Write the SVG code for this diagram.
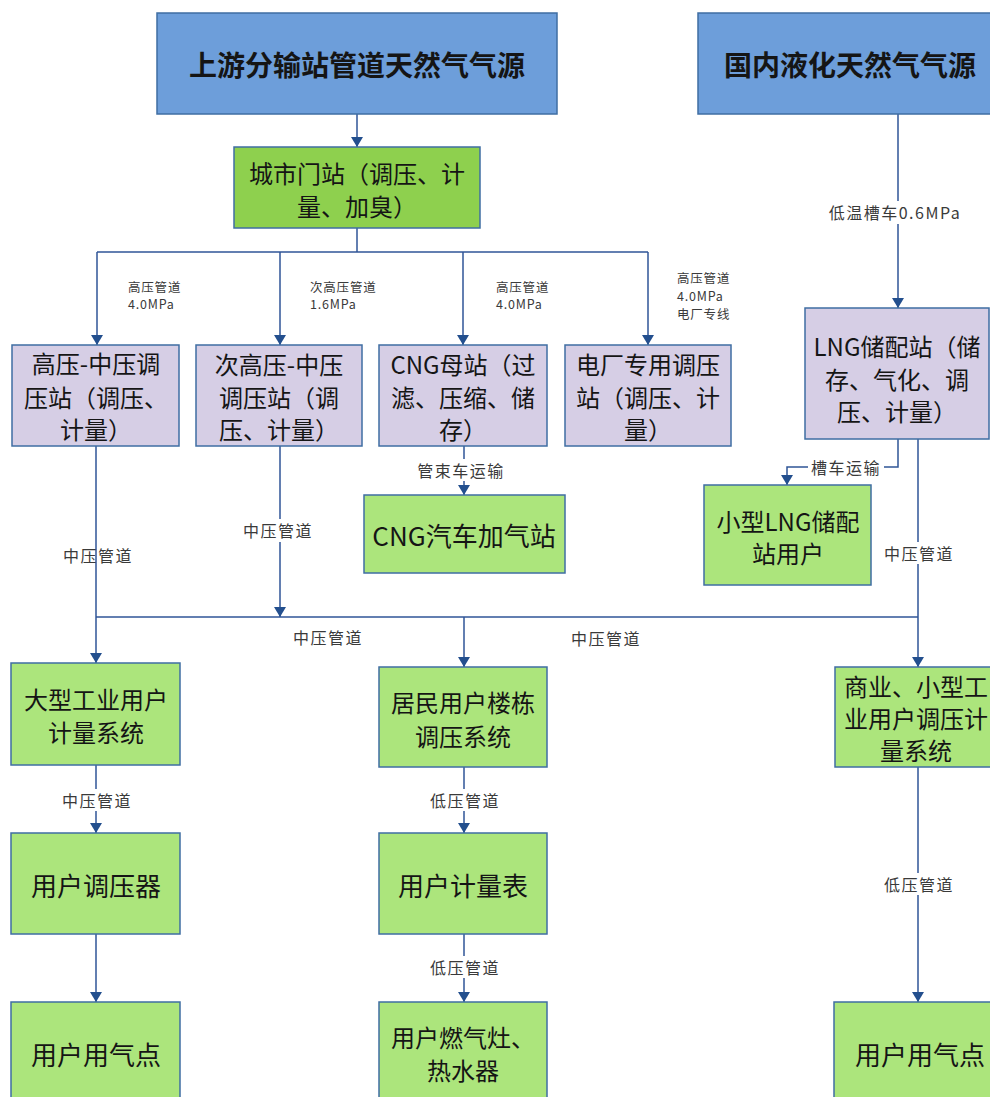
<svg xmlns="http://www.w3.org/2000/svg" width="990" height="1097" viewBox="0 0 990 1097">
  <defs>
    <marker id="arrow" viewBox="0 0 10 12" refX="10" refY="6" markerWidth="10" markerHeight="12" markerUnits="userSpaceOnUse" orient="auto">
      <path d="M0,0 L10,6 L0,12 Z" fill="#234f8e"/>
    </marker>
    <style>
      text { font-family: "Noto Sans CJK SC", "Noto Sans", sans-serif; dominant-baseline: central; text-anchor: middle; fill: #151515; }
      .src { fill: #6d9eda; stroke: #3f6ea3; stroke-width: 1.5; }
      .gate { fill: #8ed04e; stroke: #3f6ea3; stroke-width: 1.5; }
      .stn { fill: #d6cee5; stroke: #3f6ea3; stroke-width: 1.5; }
      .usr { fill: #ace57c; stroke: #3f6ea3; stroke-width: 1.5; }
      .t-src { font-size: 28px; font-weight: bold; }
      .t-box { font-size: 24px; }
      .t-big { font-size: 26px; }
      .wire { fill: none; stroke: #2f5597; stroke-width: 1.5; }
      .lbl { font-size: 16px; fill: #3a3a3a; letter-spacing: 1.5px; }
      .lbl-s { font-size: 12.5px; fill: #3a3a3a; text-anchor: start; letter-spacing: 0.8px; }
      .mask { fill: #ffffff; }
    </style>
  </defs>

  <rect width="990" height="1097" fill="#ffffff"/>

  <!-- connectors -->
  <g id="connectors">
    <line class="wire" x1="357" y1="114" x2="357" y2="147" marker-end="url(#arrow)"/>
    <polyline class="wire" points="357,228 357,252"/>
    <polyline class="wire" points="97,252 648,252"/>
    <line class="wire" x1="97" y1="252" x2="97" y2="345" marker-end="url(#arrow)"/>
    <line class="wire" x1="280" y1="252" x2="280" y2="345" marker-end="url(#arrow)"/>
    <line class="wire" x1="463" y1="252" x2="463" y2="345" marker-end="url(#arrow)"/>
    <line class="wire" x1="648" y1="252" x2="648" y2="345" marker-end="url(#arrow)"/>

    <line class="wire" x1="898" y1="114" x2="898" y2="308" marker-end="url(#arrow)"/>
    <path class="wire" d="M898,439 V467 H787 V485" marker-end="url(#arrow)"/>
    <line class="wire" x1="918" y1="439" x2="918" y2="617"/>

    <line class="wire" x1="464" y1="446" x2="464" y2="495" marker-end="url(#arrow)"/>
    <line class="wire" x1="96" y1="446" x2="96" y2="663" marker-end="url(#arrow)"/>
    <line class="wire" x1="280" y1="446" x2="280" y2="617" marker-end="url(#arrow)"/>

    <polyline class="wire" points="96,617 918,617"/>
    <line class="wire" x1="464" y1="617" x2="464" y2="667" marker-end="url(#arrow)"/>
    <line class="wire" x1="918" y1="617" x2="918" y2="667" marker-end="url(#arrow)"/>

    <line class="wire" x1="96" y1="765" x2="96" y2="833" marker-end="url(#arrow)"/>
    <line class="wire" x1="464" y1="767" x2="464" y2="833" marker-end="url(#arrow)"/>
    <line class="wire" x1="918" y1="767" x2="918" y2="1002" marker-end="url(#arrow)"/>
    <line class="wire" x1="96" y1="934" x2="96" y2="1002" marker-end="url(#arrow)"/>
    <line class="wire" x1="464" y1="934" x2="464" y2="1002" marker-end="url(#arrow)"/>

    <!-- line labels -->
    <text class="lbl-s" x="128" y="286">高压管道</text>
    <text class="lbl-s" x="128" y="303">4.0MPa</text>
    <text class="lbl-s" x="310" y="286">次高压管道</text>
    <text class="lbl-s" x="310" y="303">1.6MPa</text>
    <text class="lbl-s" x="496" y="286">高压管道</text>
    <text class="lbl-s" x="496" y="303">4.0MPa</text>
    <text class="lbl-s" x="677" y="277">高压管道</text>
    <text class="lbl-s" x="677" y="295">4.0MPa</text>
    <text class="lbl-s" x="677" y="313">电厂专线</text>

    <rect class="mask" x="826" y="201" width="140" height="23"/>
    <text class="lbl" x="895" y="212" letter-spacing="0.5">低温槽车0.6MPa</text>

    <rect class="mask" x="808" y="457" width="76" height="20"/>
    <text class="lbl" x="846" y="467">槽车运输</text>

    <rect class="mask" x="881" y="542" width="76" height="22"/>
    <text class="lbl" x="919" y="553">中压管道</text>

    <rect class="mask" x="413" y="459" width="94" height="22"/>
    <text class="lbl" x="461" y="470">管束车运输</text>

    <text class="lbl" x="98" y="555">中压管道</text>

    <rect class="mask" x="239" y="519" width="76" height="23"/>
    <text class="lbl" x="278" y="530">中压管道</text>

    <text class="lbl" x="328" y="637">中压管道</text>
    <text class="lbl" x="606" y="638">中压管道</text>

    <rect class="mask" x="58" y="789" width="78" height="22"/>
    <text class="lbl" x="97" y="800">中压管道</text>
    <rect class="mask" x="426" y="789" width="78" height="22"/>
    <text class="lbl" x="465" y="800">低压管道</text>
    <rect class="mask" x="880" y="873" width="78" height="22"/>
    <text class="lbl" x="919" y="884">低压管道</text>
    <rect class="mask" x="426" y="956" width="78" height="22"/>
    <text class="lbl" x="465" y="967">低压管道</text>
  </g>

  <!-- sources -->
  <g id="pipeline-source">
    <rect class="src" x="157" y="13" width="400" height="101"/>
    <text class="t-src" x="357" y="64">上游分输站管道天然气气源</text>
  </g>
  <g id="lng-source">
    <rect class="src" x="698" y="13" width="300" height="101"/>
    <text class="t-src" x="850" y="64">国内液化天然气气源</text>
  </g>

  <g id="city-gate">
    <rect class="gate" x="234" y="147" width="246" height="81"/>
    <text class="t-box" x="357" y="172">城市门站（调压、计</text>
    <text class="t-box" x="357" y="205">量、加臭）</text>
  </g>

  <!-- pressure regulating stations -->
  <g id="hp-mp-station">
    <rect class="stn" x="12" y="345" width="167" height="101"/>
    <text class="t-box" x="96" y="362">高压-中压调</text>
    <text class="t-box" x="96" y="396">压站（调压、</text>
    <text class="t-box" x="96" y="428">计量）</text>
  </g>
  <g id="shp-mp-station">
    <rect class="stn" x="196" y="345" width="166" height="101"/>
    <text class="t-box" x="279" y="363">次高压-中压</text>
    <text class="t-box" x="279" y="396">调压站（调</text>
    <text class="t-box" x="279" y="428">压、计量）</text>
  </g>
  <g id="cng-mother-station">
    <rect class="stn" x="379" y="345" width="168" height="101"/>
    <text class="t-box" x="463" y="363">CNG母站（过</text>
    <text class="t-box" x="463" y="396">滤、压缩、储</text>
    <text class="t-box" x="463" y="428">存）</text>
  </g>
  <g id="power-plant-station">
    <rect class="stn" x="565" y="345" width="166" height="101"/>
    <text class="t-box" x="648" y="363">电厂专用调压</text>
    <text class="t-box" x="648" y="396">站（调压、计</text>
    <text class="t-box" x="648" y="428">量）</text>
  </g>
  <g id="lng-station">
    <rect class="stn" x="805" y="308" width="184" height="131"/>
    <text class="t-box" x="897" y="345" font-size="25">LNG储配站（储</text>
    <text class="t-box" x="897" y="378" font-size="25">存、气化、调</text>
    <text class="t-box" x="897" y="410" font-size="25">压、计量）</text>
  </g>

  <g id="cng-filling-station">
    <rect class="usr" x="364" y="495" width="201" height="78"/>
    <text class="t-big" x="464" y="534">CNG汽车加气站</text>
  </g>
  <g id="small-lng-user">
    <rect class="usr" x="704" y="485" width="167" height="100"/>
    <text class="t-box" x="788" y="520" font-size="25">小型LNG储配</text>
    <text class="t-box" x="788" y="552" font-size="25">站用户</text>
  </g>

  <!-- consumers -->
  <g id="industrial-metering">
    <rect class="usr" x="11" y="663" width="169" height="102"/>
    <text class="t-box" x="96" y="698" font-size="25">大型工业用户</text>
    <text class="t-box" x="96" y="731" font-size="25">计量系统</text>
  </g>
  <g id="residential-regulating">
    <rect class="usr" x="379" y="667" width="168" height="100"/>
    <text class="t-box" x="463" y="701" font-size="25">居民用户楼栋</text>
    <text class="t-box" x="463" y="735" font-size="25">调压系统</text>
  </g>
  <g id="commercial-regulating">
    <rect class="usr" x="835" y="667" width="170" height="100"/>
    <text class="t-box" x="916" y="685">商业、小型工</text>
    <text class="t-box" x="916" y="717">业用户调压计</text>
    <text class="t-box" x="916" y="749">量系统</text>
  </g>
  <g id="user-regulator">
    <rect class="usr" x="11" y="833" width="169" height="101"/>
    <text class="t-big" x="96" y="884">用户调压器</text>
  </g>
  <g id="user-meter">
    <rect class="usr" x="379" y="833" width="168" height="101"/>
    <text class="t-big" x="463" y="884">用户计量表</text>
  </g>
  <g id="industrial-point">
    <rect class="usr" x="11" y="1002" width="169" height="110"/>
    <text class="t-big" x="96" y="1053">用户用气点</text>
  </g>
  <g id="appliances">
    <rect class="usr" x="379" y="1002" width="168" height="110"/>
    <text class="t-box" x="463" y="1036" font-size="25">用户燃气灶、</text>
    <text class="t-box" x="463" y="1069" font-size="25">热水器</text>
  </g>
  <g id="commercial-point">
    <rect class="usr" x="834" y="1002" width="170" height="110"/>
    <text class="t-big" x="920" y="1053">用户用气点</text>
  </g>
</svg>
